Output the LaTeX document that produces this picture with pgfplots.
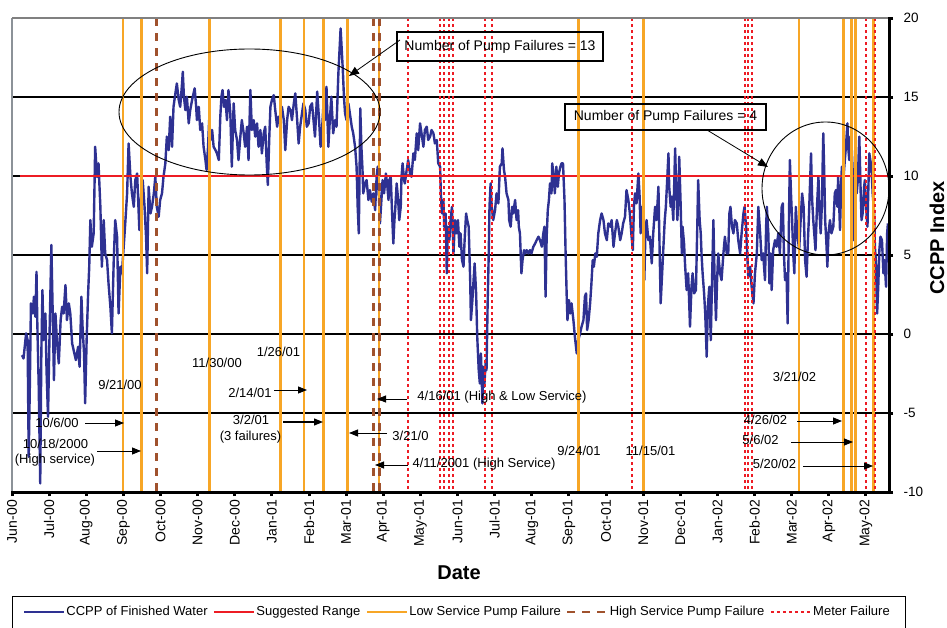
\documentclass[border=0pt]{standalone}
\usepackage{pgfplots}
\pgfplotsset{compat=1.18}
\usepackage{fontspec}
\setmainfont{Liberation Sans}
\usetikzlibrary{arrows.meta}
\definecolor{ccppblue}{RGB}{46,49,146}
\definecolor{rangered}{RGB}{237,28,36}
\definecolor{lowor}{RGB}{247,166,38}
\definecolor{highbr}{RGB}{160,82,45}
\definecolor{framegray}{RGB}{140,146,152}
\newcommand{\fs}{\fontsize{13}{15}\selectfont}
\begin{document}
\begin{tikzpicture}[x=1pt,y=1pt]
\useasboundingbox (0,0) rectangle (947,627);
\begin{axis}[
  at={(12pt,135pt)}, anchor=south west,
  width=877pt, height=474pt, scale only axis,
  xmin=0, xmax=23.62, ymin=-10, ymax=20,
  axis line style={draw=none},
  xtick={0,1,...,23},
  xticklabels={Jun-00,Jul-00,Aug-00,Sep-00,Oct-00,Nov-00,Dec-00,Jan-01,Feb-01,Mar-01,Apr-01,May-01,Jun-01,Jul-01,Aug-01,Sep-01,Oct-01,Nov-01,Dec-01,Jan-02,Feb-02,Mar-02,Apr-02,May-02},
  xtick pos=left, ytick pos=right,
  tick align=outside,
  major tick length=4pt,
  tick style={black, line width=3pt},
  ytick={-10,-5,...,20},
  yticklabel pos=right,
  /pgf/number format/assume math mode=true,
  tick label style={font=\fs, black},
  xticklabel style={rotate=90, anchor=east, inner sep=4pt, font=\fontsize{14}{16}\selectfont},
  yticklabel style={anchor=west, xshift=7pt, font=\fontsize{13.5}{16}\selectfont},
  extra y ticks={-5,0,5,10,15},
  extra y tick labels={},
  extra y tick style={ymajorgrids=true, major tick length=0pt},
  grid style={black, line width=2.6pt},
  unbounded coords=jump,
  legend columns=-1,
  legend style={at={(0.0091,-0.2532)}, anchor=west, draw=none, fill=none, font=\fs,
    /tikz/every even column/.append style={column sep=4pt}, nodes={inner sep=1.5pt}},
  legend image code/.code={\draw[#1, line width=1.8pt] (0pt,0pt) -- (40pt,0pt);},
]
% CCPP of finished water
\addplot[ccppblue, line width=2.4pt, line join=round, mark=none] coordinates {
(0.27,-1.34) (0.31,-1.55) (0.38,0.04) (0.42,-0.38) (0.45,-7.77) (0.48,-3.34) (0.51,1.94) (0.56,1.30)
(0.59,2.36) (0.63,1.09) (0.66,3.94) (0.68,0.88) (0.72,-3.34) (0.76,-9.46) (0.79,-1.23) (0.82,2.78)
(0.85,-0.39) (0.90,1.30) (0.93,-2.29) (0.97,-5.24) (1.01,-0.17) (1.06,5.63) (1.10,0.88) (1.13,-2.92)
(1.17,1.30) (1.21,-0.39) (1.26,-1.86) (1.31,0.88) (1.35,1.72) (1.39,1.30) (1.44,3.10) (1.48,0.88)
(1.53,1.94) (1.57,1.30) (1.62,-0.60) (1.66,-1.02) (1.72,-1.65) (1.78,-0.81) (1.82,-2.07) (1.87,2.36)
(1.90,0.46) (1.94,-1.23) (1.97,-4.39) (2.01,-0.39) (2.05,2.57) (2.08,4.26) (2.11,7.21) (2.15,5.52)
(2.20,6.37) (2.24,11.85) (2.29,9.95) (2.33,10.80) (2.38,8.05) (2.42,4.26) (2.47,7.21) (2.51,5.10)
(2.56,4.68) (2.60,3.20) (2.65,1.72) (2.69,0.04) (2.74,4.68) (2.78,7.21) (2.83,6.16) (2.87,1.30)
(2.92,4.26) (2.96,3.84) (3.05,7.00) (3.10,8.90) (3.14,12.06) (3.19,9.95) (3.23,8.90) (3.28,8.05)
(3.32,9.74) (3.37,10.16) (3.43,6.58) (3.48,8.90) (3.52,9.74) (3.57,8.05) (3.61,6.16) (3.64,3.84)
(3.68,9.32) (3.73,7.63) (3.77,8.05) (3.82,8.90) (3.86,9.95) (3.90,8.05) (3.95,7.42) (3.99,8.48)
(4.04,8.90) (4.08,9.95) (4.13,10.80) (4.17,12.49) (4.22,11.64) (4.26,13.75) (4.31,11.85) (4.35,14.38)
(4.40,15.23) (4.44,15.86) (4.49,14.81) (4.53,14.38) (4.58,15.86) (4.60,16.60) (4.63,15.02) (4.67,14.17)
(4.71,15.02) (4.76,13.33) (4.80,14.17) (4.85,14.81) (4.92,15.55) (4.96,14.38) (4.98,13.54) (5.03,14.38)
(5.07,12.91) (5.12,13.33) (5.16,11.85) (5.21,11.01) (5.24,10.38) (5.28,11.85) (5.31,13.54) (5.35,12.28)
(5.39,12.91) (5.43,11.85) (5.48,11.64) (5.52,11.43) (5.57,11.01) (5.61,13.75) (5.64,15.02) (5.67,15.44)
(5.71,14.38) (5.75,14.81) (5.79,13.54) (5.83,15.44) (5.88,13.96) (5.92,10.59) (5.97,14.60) (6.01,12.91)
(6.06,12.28) (6.10,11.01) (6.15,12.49) (6.19,13.54) (6.24,12.70) (6.28,11.85) (6.33,13.12) (6.37,11.01)
(6.42,15.44) (6.46,12.91) (6.51,13.54) (6.55,12.49) (6.60,13.33) (6.64,11.85) (6.69,12.91) (6.73,11.43)
(6.78,12.70) (6.82,13.12) (6.86,10.80) (6.89,9.43) (6.93,12.49) (6.96,14.38) (7.00,14.81) (7.05,15.12)
(7.09,14.17) (7.14,13.12) (7.18,13.75) (7.23,13.54) (7.27,14.38) (7.32,13.54) (7.36,11.64) (7.41,13.54)
(7.45,14.38) (7.50,14.17) (7.54,13.54) (7.59,14.60) (7.63,15.23) (7.68,13.54) (7.72,12.06) (7.76,13.12)
(7.81,13.96) (7.85,14.60) (7.90,14.17) (7.94,13.12) (7.99,13.33) (8.03,14.38) (8.08,14.60)
(8.12,13.54) (8.16,12.49) (8.22,15.34) (8.27,13.54) (8.31,11.85) (8.35,12.91) (8.39,14.60) (8.43,13.54)
(8.47,15.65) (8.52,11.85) (8.56,13.54) (8.60,15.02) (8.65,12.70) (8.70,13.54) (8.74,13.12) (8.79,16.49)
(8.85,19.34) (8.91,16.70) (8.94,15.02) (8.97,13.96) (9.01,13.54) (9.06,14.60) (9.10,13.96) (9.15,13.12)
(9.19,12.70) (9.24,11.85) (9.28,10.59) (9.31,8.05) (9.34,6.37) (9.36,9.95) (9.38,14.28) (9.41,11.85)
(9.44,10.38) (9.46,8.90) (9.51,9.53) (9.55,9.74) (9.60,8.48) (9.64,9.11) (9.69,8.37) (9.73,8.90)
(9.78,7.84) (9.82,9.95) (9.85,10.59) (9.88,8.90) (9.91,7.00) (9.96,8.90) (9.98,9.74) (10.02,8.90)
(10.07,10.16) (10.11,9.32) (10.14,8.48) (10.16,9.74) (10.20,9.95) (10.23,8.05) (10.27,5.73) (10.30,7.21)
(10.32,7.84) (10.36,9.53) (10.40,8.48) (10.43,7.21) (10.47,8.05) (10.49,9.95) (10.52,10.80) (10.56,9.74)
(10.58,9.53) (10.63,10.38) (10.67,11.01) (10.72,10.16) (10.76,9.95) (10.81,11.43) (10.85,11.01) (10.90,12.70)
(10.94,11.64) (10.99,13.33) (11.03,12.70) (11.08,11.85) (11.12,12.91) (11.17,13.12) (11.21,12.28) (11.26,12.49)
(11.30,12.91) (11.35,12.70) (11.39,12.06) (11.44,12.28) (11.48,10.80) (11.53,10.59) (11.55,8.90) (11.58,7.63)
(11.62,8.48) (11.64,6.79) (11.68,7.63) (11.71,3.84) (11.74,6.79) (11.78,5.94) (11.81,7.21) (11.85,8.05)
(11.89,5.10) (11.93,7.21) (11.98,6.37) (12.01,7.21) (12.05,5.52) (12.08,6.37) (12.12,4.68) (12.16,4.26)
(12.19,5.94) (12.23,7.63) (12.26,7.21) (12.30,6.79) (12.34,3.41) (12.36,0.88) (12.40,2.15) (12.42,2.99)
(12.46,4.47) (12.50,2.57) (12.53,-0.17) (12.57,-2.29) (12.60,-3.13) (12.63,-1.23) (12.67,-4.39) (12.69,-2.07)
(12.72,-3.34) (12.76,-1.65) (12.78,-2.29) (12.81,1.94) (12.84,5.10) (12.86,8.05) (12.89,9.53) (12.92,8.05)
(12.96,7.21) (13.01,7.84) (13.05,8.90) (13.10,8.27) (13.14,10.59) (13.19,10.80) (13.21,11.75) (13.25,10.38)
(13.28,9.95) (13.32,8.90) (13.37,8.48) (13.39,7.21) (13.43,6.79) (13.47,8.05) (13.50,7.63) (13.55,8.48)
(13.59,7.21) (13.63,7.84) (13.65,6.79) (13.68,6.37) (13.72,3.84) (13.75,4.68) (13.79,5.31) (13.83,5.10)
(13.86,5.31) (13.91,5.10) (13.95,5.31) (13.99,5.10) (14.04,5.52) (14.09,5.73) (14.13,5.94) (14.18,6.16)
(14.22,5.94) (14.27,5.52) (14.31,6.37) (14.34,6.79) (14.37,2.36) (14.40,6.16) (14.43,7.84) (14.46,8.48)
(14.49,9.53) (14.53,8.90) (14.55,10.80) (14.59,9.95) (14.62,8.90) (14.66,10.59) (14.70,9.32) (14.73,10.16)
(14.77,10.59) (14.80,10.80) (14.84,10.80) (14.88,8.48) (14.91,5.10) (14.94,2.36) (14.96,0.88) (15.00,2.15)
(15.04,1.30) (15.07,1.94) (15.12,0.88) (15.16,-0.17) (15.21,-1.23) (15.25,-0.39) (15.30,0.04) (15.34,0.46)
(15.39,0.88) (15.43,2.36) (15.46,2.57) (15.49,0.25) (15.53,0.88) (15.57,1.94) (15.60,2.99) (15.64,4.68)
(15.67,4.26) (15.71,5.10) (15.75,4.89) (15.79,6.37) (15.84,7.21)
(15.88,7.63) (15.93,7.21) (15.97,6.37) (16.02,5.94) (16.06,7.00) (16.11,6.79) (16.15,7.21) (16.20,5.52)
(16.24,6.37) (16.29,7.21) (16.33,6.79) (16.38,5.94) (16.42,6.37) (16.46,7.00) (16.51,7.42) (16.55,9.11)
(16.60,8.48) (16.64,7.63) (16.68,6.37) (16.72,5.31) (16.75,8.05) (16.78,8.90) (16.82,8.27) (16.87,10.16)
(16.90,8.90) (16.93,6.37) (16.97,8.05) (17.00,7.21) (17.03,3.41) (17.06,6.37) (17.09,7.21) (17.14,5.94)
(17.18,6.16) (17.23,4.47) (17.27,6.37) (17.32,8.05) (17.36,7.21) (17.41,9.32) (17.43,6.79) (17.47,1.94)
(17.51,3.84) (17.54,5.31) (17.58,7.21) (17.61,8.05) (17.65,9.95) (17.68,11.43) (17.70,9.32) (17.74,8.05)
(17.77,8.69) (17.81,7.21) (17.86,11.75) (17.88,9.95) (17.92,7.21) (17.95,8.90) (17.97,11.22) (18.01,8.05)
(18.04,5.10) (18.06,6.79) (18.10,5.73) (18.13,4.26) (18.17,2.78) (18.21,3.84) (18.23,2.57) (18.26,0.46)
(18.30,2.99) (18.33,3.84) (18.37,2.57) (18.42,2.78) (18.46,7.21) (18.48,9.74) (18.52,7.21) (18.55,6.37)
(18.57,5.10) (18.60,3.84) (18.64,2.57) (18.67,1.30) (18.71,-1.44) (18.74,1.72) (18.78,2.99) (18.82,-0.39)
(18.85,2.99) (18.89,7.21) (18.92,3.84) (18.96,0.88) (18.99,3.41) (19.02,5.10) (19.07,3.84) (19.11,3.41)
(19.16,5.10) (19.20,6.16) (19.25,5.10) (19.29,5.10) (19.32,7.63) (19.35,8.05) (19.39,6.79) (19.43,6.37)
(19.47,7.21) (19.52,7.00) (19.56,5.94) (19.61,5.10) (19.65,6.37) (19.70,7.63) (19.73,8.05) (19.77,6.79)
(19.80,5.10) (19.83,3.62) (19.88,4.26) (19.92,2.99) (19.97,1.94) (20.01,3.84) (20.06,5.10) (20.10,8.05)
(20.15,6.37) (20.19,4.68) (20.23,5.10) (20.28,3.41) (20.31,6.79) (20.33,8.05) (20.37,6.37) (20.40,3.20)
(20.43,5.10) (20.46,2.78) (20.50,5.31) (20.55,5.94) (20.59,5.52) (20.64,6.37) (20.68,5.10) (20.73,8.05)
(20.76,8.27) (20.79,5.10) (20.82,3.41) (20.86,3.84) (20.89,0.67) (20.93,8.05) (20.95,11.01) (20.98,8.90)
(21.01,7.21) (21.04,5.10) (21.07,3.84) (21.11,8.05) (21.13,7.21) (21.17,5.94) (21.20,5.31) (21.24,7.21)
(21.28,8.90) (21.32,8.05) (21.36,4.68) (21.40,3.62) (21.44,6.16) (21.46,7.21) (21.49,9.32) (21.52,11.43)
(21.55,8.48) (21.58,7.21) (21.62,5.94) (21.64,5.31) (21.68,8.05) (21.72,9.95) (21.74,8.05) (21.78,6.37)
(21.81,8.05) (21.85,12.70) (21.88,9.74) (21.90,7.21) (21.93,5.94) (21.96,4.26) (21.99,6.37) (22.03,7.21)
(22.07,6.37) (22.12,6.79) (22.16,8.90) (22.19,9.11) (22.23,8.05) (22.25,9.95) (22.28,8.05) (22.30,6.58)
(22.33,9.32) (22.35,10.59) (22.39,9.74) (22.43,11.01) (22.46,11.85) (22.50,13.33) (22.52,11.85) (22.55,11.01)
(22.58,12.49) (22.61,12.06) (22.64,10.38) (22.67,5.94) (22.69,8.48) (22.72,10.80) (22.75,8.90) (22.78,9.74)
(22.82,12.49) (22.86,8.69) (22.88,7.21) (22.91,7.63) (22.95,9.32) (22.97,9.74) (23.00,8.05) (23.04,6.79)
(23.06,8.90) (23.09,11.43) (23.13,10.80) (23.15,10.38) (23.18,8.90) (23.22,7.63) (23.24,5.52) (23.27,4.47)
(23.30,1.30) (23.33,2.99) (23.36,5.31) (23.39,6.16) (23.43,5.94) (23.47,3.84) (23.50,4.68) (23.54,2.99)
(23.57,6.37) (23.59,7.00)
};
% suggested range
\addplot[rangered, line width=2.6pt] coordinates {(0.22,10) (23.62,10)};
% low service pump failures
\addplot[lowor, line width=2.6pt] coordinates {
(2.99,-10) (2.99,20) (2.99,nan) (3.48,-10) (3.48,20) (3.48,nan) (5.32,-10) (5.32,20) (5.32,nan)
(7.23,-10) (7.23,20) (7.23,nan) (7.86,-10) (7.86,20) (7.86,nan) (8.39,-10) (8.39,20) (8.39,nan)
(9.03,-10) (9.03,20) (9.03,nan) (9.88,-10) (9.88,20) (9.88,nan) (15.25,-10) (15.25,20) (15.25,nan)
(17.00,-10) (17.00,20) (17.00,nan) (21.20,-10) (21.20,20) (21.20,nan) (22.39,-10) (22.39,20) (22.39,nan)
(22.61,-10) (22.61,20) (22.61,nan) (22.72,-10) (22.72,20) (22.72,nan) (23.20,-10) (23.20,20)};
% high service pump failures
\addplot[highbr, line width=3pt, dash pattern=on 8pt off 7pt] coordinates {
(3.89,20) (3.89,-10) (3.89,nan) (9.73,20) (9.73,-10) (9.73,nan) (9.89,20) (9.89,-10)};
% meter failures
\addplot[rangered, line width=2pt, dash pattern=on 3pt off 3pt] coordinates {
(10.66,20) (10.66,-10) (10.66,nan) (11.53,20) (11.53,-10) (11.53,nan) (11.63,20) (11.63,-10) (11.63,nan)
(11.76,20) (11.76,-10) (11.76,nan) (11.89,20) (11.89,-10) (11.89,nan) (12.74,20) (12.74,-10) (12.74,nan)
(12.92,20) (12.92,-10) (12.92,nan) (16.70,20) (16.70,-10) (16.70,nan) (19.74,20) (19.74,-10) (19.74,nan)
(19.83,20) (19.83,-10) (19.83,nan) (19.92,20) (19.92,-10) (19.92,nan) (23.00,20) (23.00,-10) (23.00,nan)
(23.25,20) (23.25,-10)};
\legend{CCPP of Finished Water, Suggested Range, Low Service Pump Failure, High Service Pump Failure, Meter Failure}
\end{axis}
% frame
\draw[framegray, line width=1.8pt] (12,135) -- (12,609);
\draw[gray, line width=1.3pt] (12,609) -- (889,609);
\draw[black, line width=3pt] (889,133.5) -- (889,610);
\draw[black, line width=3pt] (11,135) -- (890.5,135);
% annotations
\begin{scope}[font=\fs, every node/.style={inner sep=0pt}]
\node at (120,242) {9/21/00};
\node at (57,204) {10/6/00};
\draw[-{Triangle[length=9pt,width=7pt]}, line width=0.8pt] (85,204) -- (124,204);
\node at (55.5,183) {10/18/2000};
\node at (55,167) {(High service)};
\draw[-{Triangle[length=9pt,width=7pt]}, line width=0.8pt] (97,176) -- (141,176);
\node at (217,264) {11/30/00};
\node at (278.5,275) {1/26/01};
\node at (250,234) {2/14/01};
\draw[-{Triangle[length=9pt,width=7pt]}, line width=0.8pt] (274,237) -- (307,237);
\node at (251,207) {3/2/01};
\node at (250.5,190) {(3 failures)};
\draw[-{Triangle[length=9pt,width=7pt]}, line width=1.2pt] (283,205) -- (323,205);
\node at (410.5,191) {3/21/0};
\draw[-{Triangle[length=9pt,width=7pt]}, line width=0.8pt] (387,194) -- (349,194);
\node at (502,230) {4/16/01 (High \& Low Service)};
\draw[-{Triangle[length=9pt,width=7pt]}, line width=0.8pt] (407,228) -- (377,228);
\node at (484,163) {4/11/2001 (High Service)};
\draw[-{Triangle[length=9pt,width=7pt]}, line width=0.8pt] (408,162) -- (375,162);
\node at (579,176) {9/24/01};
\node at (650.5,176) {11/15/01};
\node at (794.5,250) {3/21/02};
\node at (765.5,207) {4/26/02};
\draw[-{Triangle[length=9pt,width=7pt]}, line width=0.8pt] (797,206) -- (842,206);
\node at (760.5,187) {5/6/02};
\draw[-{Triangle[length=9pt,width=7pt]}, line width=0.8pt] (791,185) -- (853,185);
\node at (774.5,163) {5/20/02};
\draw[-{Triangle[length=9pt,width=7pt]}, line width=0.8pt] (803,161) -- (873,161);
\end{scope}
% ellipses and boxes
\draw[line width=0.9pt] (249.5,515) ellipse [x radius=130.5, y radius=63];
\draw[line width=0.9pt] (825.5,438.5) ellipse [x radius=63.5, y radius=66.5];
\draw[line width=1.8pt] (397,595) rectangle (603,566);
\node[font=\fontsize{14}{16}\selectfont] at (500,580.5) {Number of Pump Failures = 13};
\draw[-{Triangle[length=10pt,width=8pt]}, line width=0.8pt] (400,587) -- (349,551);
\draw[line width=1.8pt] (565,523) rectangle (766,497);
\node[font=\fontsize{14}{16}\selectfont] at (665.5,510) {Number of Pump Failures = 4};
\draw[-{Triangle[length=10pt,width=8pt]}, line width=0.8pt] (707,497) -- (768,460);
% axis titles
\node[font=\fontsize{20}{24}\selectfont\bfseries] at (459,54) {Date};
\node[font=\fontsize{20}{24}\selectfont\bfseries, rotate=90] at (937,389) {CCPP Index};
% legend frame
\draw[line width=0.8pt] (12,-5) rectangle (905,31);
\end{tikzpicture}
\end{document}
